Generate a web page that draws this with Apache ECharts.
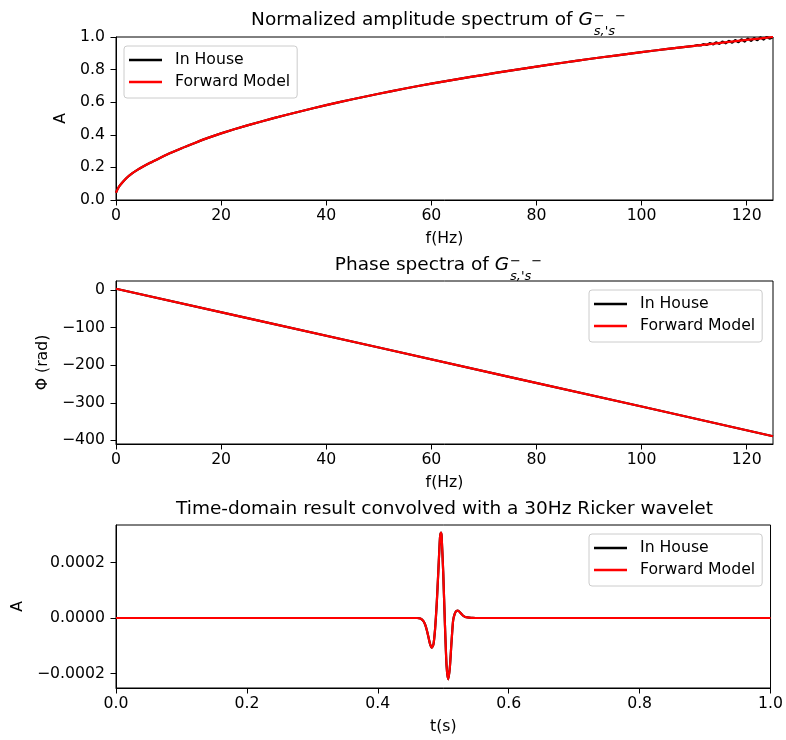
<!DOCTYPE html>
<html>
<head>
<meta charset="utf-8">
<script src="https://cdn.jsdelivr.net/npm/echarts@6/dist/echarts.min.js"></script>
<style>
html,body{margin:0;padding:0;background:#fff;}
#chart{width:786px;height:740px;}
</style>
</head>
<body>
<div id="chart"></div>
<script>
// ---------------- data ----------------
const seriesNames = ['In House', 'Forward Model'];

// Normalized amplitude spectrum
const ampFreq    = [0, 0.5, 1, 2, 3, 4, 5, 6.5, 8, 10, 12.5, 15, 17.5, 20, 25, 30, 35, 40, 45, 50, 55, 60, 65, 70, 75, 80, 85, 90, 95, 100, 105, 110, 115, 120, 125];
const ampForward = [0.045, 0.078, 0.10, 0.135, 0.162, 0.183, 0.202, 0.228, 0.252, 0.283, 0.318, 0.35, 0.381, 0.409, 0.458, 0.502, 0.543, 0.582, 0.618, 0.652, 0.684, 0.714, 0.742, 0.768, 0.794, 0.818, 0.842, 0.865, 0.886, 0.907, 0.927, 0.946, 0.964, 0.982, 1.0];
// In-house ripple region (above 110 Hz)
const rippleFreq    = [110.6, 111.2, 111.8, 112.4, 113.0, 113.6, 114.2, 114.8, 115.4, 116.0, 116.6, 117.2, 117.8, 118.4, 119.0, 119.6, 120.2, 120.8, 121.4, 122.0, 122.6, 123.2, 123.8, 124.4, 125.0];
const rippleInHouse = [0.950, 0.948, 0.957, 0.951, 0.962, 0.954, 0.9675, 0.958, 0.972, 0.961, 0.977, 0.965, 0.981, 0.968, 0.986, 0.972, 0.990, 0.976, 0.994, 0.980, 0.998, 0.984, 1.000, 0.990, 1.0];

// Phase spectra
const phaseFreq    = [0, 25, 50, 75, 100, 125];
const phaseForward = [3, -75, -153, -232, -310, -389];
const phaseInHouse = [3, -75, -153, -232, -310, -389];

// Time-domain result
const timeT       = [0, 0.46, 0.465, 0.47, 0.4725, 0.475, 0.4775, 0.48, 0.4825, 0.485, 0.4875, 0.49, 0.4925, 0.495, 0.4965, 0.4975, 0.5, 0.5025, 0.505, 0.5075, 0.51, 0.5125, 0.515, 0.5175, 0.52, 0.5225, 0.525, 0.5275, 0.53, 0.5325, 0.535, 0.54, 0.545, 0.55, 1.0];
const timeForward = [0, 0, -0.02e-4, -0.12e-4, -0.25e-4, -0.45e-4, -0.70e-4, -0.95e-4, -1.07e-4, -0.95e-4, -0.40e-4, 0.50e-4, 1.70e-4, 2.90e-4, 3.08e-4, 2.95e-4, 1.60e-4, -0.20e-4, -1.70e-4, -2.21e-4, -1.80e-4, -0.90e-4, -0.10e-4, 0.15e-4, 0.25e-4, 0.27e-4, 0.22e-4, 0.15e-4, 0.09e-4, 0.05e-4, 0.03e-4, 0.015e-4, 0.005e-4, 0, 0];
const timeInHouse = timeForward.slice();

// Tick labels
const freqTicks  = [0, 20, 40, 60, 80, 100, 120];
const ampTicks   = [0, 0.2, 0.4, 0.6, 0.8, 1.0];
const phaseTicks = [0, -100, -200, -300, -400];
const timeTicks  = [0, 0.2, 0.4, 0.6, 0.8, 1.0];
const waveTicks  = [-0.0002, 0, 0.0002];

// ---------------- build ----------------
const FONT = 'DejaVu Sans';
const TICK_FS = 15.7;
const TITLE_FS = 18.5;
const SCRIPT_FS = 13;
const GRID_LEFT = 116, GRID_W = 657, GRID_H = 163;
const gridTops = [37, 281, 525];

const zip = (xs, ys) => xs.map((x, i) => [x, ys[i]]);
const minus = s => String(s).replace('-', '\u2212');

const ampInHouseData = zip(ampFreq, ampForward).filter(p => p[0] <= 110).concat(zip(rippleFreq, rippleInHouse));

function xAxisCfg(idx, min, max, ticks, name, fmt) {
  return {
    type: 'value', gridIndex: idx, min: min, max: max,
    name: name, nameLocation: 'middle', nameGap: 31,
    nameTextStyle: {fontFamily: FONT, fontSize: TICK_FS, color: '#000'},
    axisLine: {show: true, onZero: false, lineStyle: {color: '#000', width: 1}},
    axisTick: {show: true, length: 5.5, customValues: ticks, lineStyle: {color: '#000', width: 1}},
    axisLabel: {show: true, margin: 8, customValues: ticks, color: '#000', fontFamily: FONT, fontSize: TICK_FS, formatter: fmt},
    splitLine: {show: false}
  };
}
function yAxisCfg(idx, min, max, ticks, name, gap, fmt) {
  return {
    type: 'value', gridIndex: idx, min: min, max: max,
    name: name, nameLocation: 'middle', nameGap: gap, nameRotate: 90,
    nameTextStyle: {fontFamily: FONT, fontSize: TICK_FS, color: '#000'},
    axisLine: {show: true, onZero: false, lineStyle: {color: '#000', width: 1}},
    axisTick: {show: true, length: 5.5, customValues: ticks, lineStyle: {color: '#000', width: 1}},
    axisLabel: {show: true, margin: 11, customValues: ticks, color: '#000', fontFamily: FONT, fontSize: TICK_FS, formatter: fmt},
    splitLine: {show: false}
  };
}
function lineSeries(name, color, idx, data, smooth) {
  return {
    name: name, type: 'line', xAxisIndex: idx, yAxisIndex: idx, data: data,
    showSymbol: false, symbol: 'none', smooth: smooth, clip: true,
    lineStyle: {color: color, width: 2.2}, itemStyle: {color: color},
    z: color === '#ff0000' ? 3 : 2
  };
}
function legendCfg(left, top) {
  return {
    data: seriesNames.map(n => ({name: n, icon: 'rect'})), orient: 'vertical', left: left, top: top,
    itemWidth: 33, itemHeight: 2.4, itemGap: 4, padding: [5, 7, 7, 5],
    backgroundColor: 'rgba(255,255,255,0.8)', borderColor: '#cccccc', borderWidth: 1, borderRadius: 3,
    selectedMode: false,
    textStyle: {fontFamily: FONT, fontSize: TICK_FS, color: '#000', padding: [0, 0, 0, 8], lineHeight: 18}
  };
}

// titles as graphic text (mathtext G)
const cv = document.createElement('canvas').getContext('2d');
function measure(txt, fs, italic) {
  cv.font = (italic ? 'italic ' : '') + fs + 'px "' + FONT + '"';
  return cv.measureText(txt).width;
}
function txt(x, y, text, fs, italic) {
  return {
    type: 'text', x: x, y: y, silent: true,
    style: {text: text, fontFamily: FONT, fontSize: fs, fontStyle: italic ? 'italic' : 'normal', fill: '#000',
            align: 'left', textAlign: 'left', verticalAlign: 'middle', textVerticalAlign: 'middle'}
  };
}
function mathTitle(prefix, midY) {
  const pw = measure(prefix, TITLE_FS, false);
  const gw = measure('G', TITLE_FS, true);
  const sw = measure("s,'s", SCRIPT_FS, true);
  const mw = measure('\u2212', SCRIPT_FS, false);
  const total = pw + gw + 1 + sw + mw;
  const x0 = GRID_LEFT + GRID_W / 2 - total / 2 - 6;
  const sx = x0 + pw + gw + 1;
  return [
    txt(x0, midY, prefix, TITLE_FS, false),
    txt(x0 + pw, midY, 'G', TITLE_FS, true),
    txt(sx, midY - 3.7, '\u2212', SCRIPT_FS, false),
    txt(sx, midY + 11.8, "s,'s", SCRIPT_FS, true),
    txt(sx + sw, midY - 3.7, '\u2212', SCRIPT_FS, false)
  ];
}
const graphics = []
  .concat(mathTitle('Normalized amplitude spectrum of ', 20.2))
  .concat(mathTitle('Phase spectra of ', 265.2))
  .concat([{
    type: 'text', x: GRID_LEFT + GRID_W / 2, y: 509, silent: true,
    style: {text: 'Time-domain result convolved with a 30Hz Ricker wavelet', fontFamily: FONT, fontSize: TITLE_FS, fill: '#000',
            align: 'center', textAlign: 'center', verticalAlign: 'middle', textVerticalAlign: 'middle'}
  }]);

const option = {
  animation: false,
  backgroundColor: '#ffffff',
  grid: gridTops.map(t => ({left: GRID_LEFT, top: t, width: GRID_W, height: GRID_H, show: true, borderColor: '#000', borderWidth: 1, backgroundColor: 'transparent', containLabel: false})),
  xAxis: [
    xAxisCfg(0, 0, 125, freqTicks, 'f(Hz)', v => String(v)),
    xAxisCfg(1, 0, 125, freqTicks, 'f(Hz)', v => String(v)),
    xAxisCfg(2, 0, 1, timeTicks, 't(s)', v => v.toFixed(1))
  ],
  yAxis: [
    yAxisCfg(0, 0, 1, ampTicks, 'A', 44, v => v.toFixed(1)),
    yAxisCfg(1, -409.6, 23.6, phaseTicks, '\u03A6 (rad)', 62, v => minus(v)),
    yAxisCfg(2, -0.000252, 0.000335, waveTicks, 'A', 89, v => minus(v.toFixed(4)))
  ],
  legend: [legendCfg(124, 46), legendCfg(589, 290), legendCfg(589, 534)],
  graphic: graphics,
  series: [
    lineSeries('In House', '#000000', 0, ampInHouseData, 0.2),
    lineSeries('Forward Model', '#ff0000', 0, zip(ampFreq, ampForward), 0.2),
    lineSeries('In House', '#000000', 1, zip(phaseFreq, phaseInHouse), false),
    lineSeries('Forward Model', '#ff0000', 1, zip(phaseFreq, phaseForward), false),
    lineSeries('In House', '#000000', 2, zip(timeT, timeInHouse), 0.2),
    lineSeries('Forward Model', '#ff0000', 2, zip(timeT, timeForward), 0.2)
  ]
};
const chart = echarts.init(document.getElementById('chart'), null, {renderer: 'canvas'});
chart.setOption(option);
</script>
</body>
</html>
